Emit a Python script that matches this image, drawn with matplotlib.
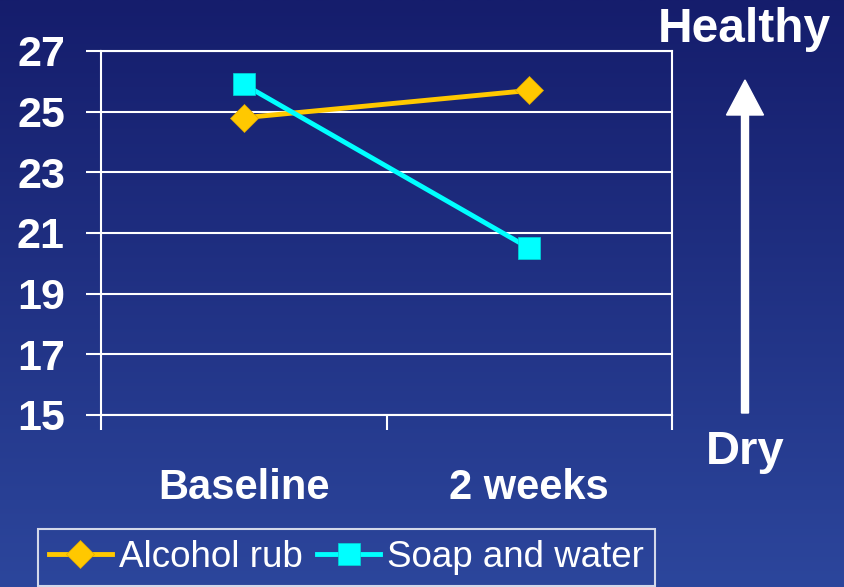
import matplotlib.pyplot as plt
import numpy as np
from matplotlib.colors import LinearSegmentedColormap
from matplotlib.patches import FancyArrow

categories = ['Baseline', '2 weeks']
alcohol = [24.8, 25.7]
soap = [25.9, 20.5]
yticks = [15, 17, 19, 21, 23, 25, 27]

plt.rcParams['font.family'] = ['Liberation Sans', 'DejaVu Sans']

fig = plt.figure(figsize=(8.44, 5.87), dpi=100)

# gradient background
bg = fig.add_axes([0, 0, 1, 1], zorder=-10)
cmap = LinearSegmentedColormap.from_list('bg', ['#151d6c', '#2c469c'])
bg.imshow(np.linspace(0, 1, 256).reshape(-1, 1), aspect='auto', cmap=cmap,
          extent=[0, 1, 0, 1])
bg.axis('off')

ax = fig.add_axes([101/844, 1 - 415/587, 571/844, 364/587])
ax.patch.set_alpha(0)

x = np.arange(len(categories)) + 0.5
ax.plot(x, alcohol, color='#ffc800', lw=3.5, marker='D', ms=14,
        mec='#e0a800', mew=0.5, label='Alcohol rub', zorder=3)
ax.plot(x, soap, color='#00ffff', lw=3.5, marker='s', ms=16,
        mec='#00d8d8', mew=0.5, label='Soap and water', zorder=3)

ax.set_xlim(0, 2)
ax.set_ylim(15, 27)
ax.set_yticks(yticks)
ax.set_yticklabels([str(v) for v in yticks])
ax.grid(axis='y', color='white', lw=1.5)
ax.set_axisbelow(True)

ax.set_xticks([0, 1, 2])
ax.set_xticklabels([])
ax.set_xticks(x, minor=True)
ax.set_xticklabels(categories, minor=True)
ax.tick_params(axis='x', which='major', length=11, width=1.5, color='white', direction='out')
ax.tick_params(axis='x', which='minor', length=0, pad=38, labelsize=30, labelcolor='white')
ax.tick_params(axis='y', length=11, width=1.5, color='white', pad=15, labelsize=31,
               labelcolor='white')
for lab in ax.get_xticklabels(minor=True) + ax.get_yticklabels():
    lab.set_fontweight('bold')

for side in ['left', 'right', 'top', 'bottom']:
    ax.spines[side].set_color('white')
    ax.spines[side].set_linewidth(1.5)

# Healthy / Dry arrow
fig.text(744/844, 1 - 29/587, 'Healthy', color='white', fontsize=34.5, fontweight='bold',
         ha='center', va='center')
fig.text(745/844, 1 - 452/587, 'Dry', color='white', fontsize=34, fontweight='bold',
         ha='center', va='center')
arr = FancyArrow(745/844, 1 - 413/587, 0, (413 - 80)/587, width=7/844,
                 head_width=37/844, head_length=35/587, length_includes_head=True,
                 color='white', transform=fig.transFigure)
fig.patches.append(arr)

leg = fig.legend(loc='upper left', bbox_to_anchor=(38/844, 1 - 529/587), ncol=2,
                 fontsize=26.5, frameon=True, fancybox=False, handlelength=1.7,
                 columnspacing=0.4, handletextpad=0.2, borderpad=0.3, borderaxespad=0)
leg.get_frame().set_facecolor('none')
leg.get_frame().set_edgecolor('white')
leg.get_frame().set_linewidth(1.5)
for t in leg.get_texts():
    t.set_color('white')

plt.savefig('out.png', dpi=100)
